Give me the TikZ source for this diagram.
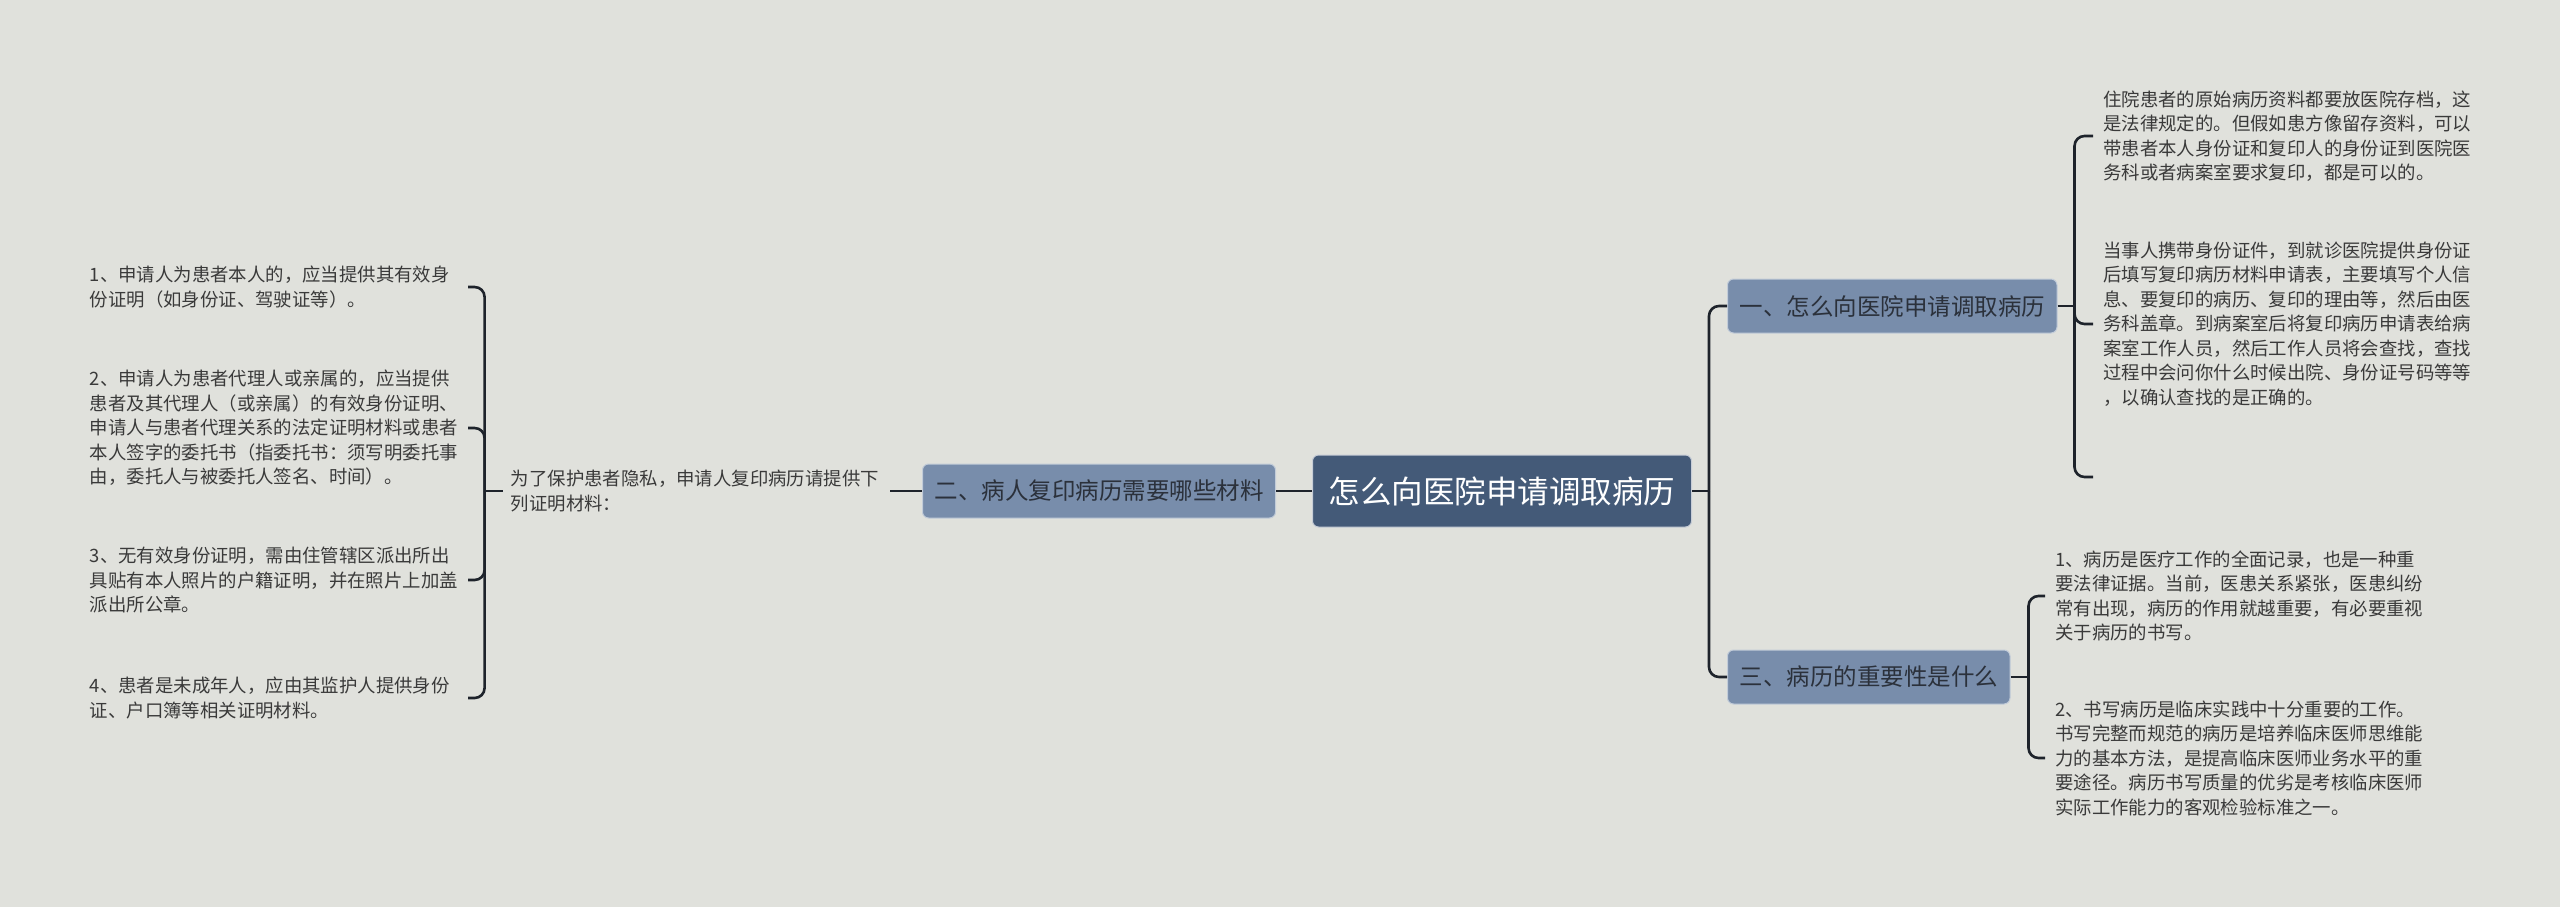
\documentclass[tikz,border=0pt]{standalone}
\usepackage{fontspec}
\setmainfont{Noto Sans CJK SC}
\usetikzlibrary{positioning}
\definecolor{bgcol}{HTML}{E0E1DC}
\definecolor{rootcol}{HTML}{445A78}
\definecolor{topiccol}{HTML}{788DAB}
\definecolor{linecol}{HTML}{1E232B}
\definecolor{leaftext}{HTML}{3A3A3A}
\definecolor{topictext}{HTML}{2B313B}

\begin{document}
\begin{tikzpicture}[x=1pt,y=-1pt,node distance=36pt,
  root/.style={rectangle,rounded corners=6pt,fill=rootcol,draw=white!70!rootcol,line width=1pt,text=white,
    font=\fontsize{31.5}{36}\selectfont,minimum width=379pt,minimum height=72pt},
  topic/.style={rectangle,rounded corners=6pt,fill=topiccol,draw=white!55!topiccol,line width=1pt,text=topictext,
    font=\fontsize{23.5}{28}\selectfont,minimum height=54pt,inner xsep=12pt},
  leaf/.style={align=left,text width=370pt,inner xsep=8pt,text=leaftext,font=\fontsize{18.4}{24.5}\selectfont},
  link/.style={draw=linecol,line width=2.6pt,rounded corners=10pt}]
\useasboundingbox (0,0) rectangle (2560,907);
\fill[bgcol] (0,0) rectangle (2560,907);

% centre and the left branch
\node[root] (root) at (1502,491) {怎么向医院申请调取病历};
\node[topic,left=of root] (n2) {二、病人复印病历需要哪些材料};
\node[leaf,text width=371pt,left=32pt of n2] (why) {为了保护患者隐私，申请人复印病历请提供下\\列证明材料：};
\node[leaf,anchor=east] (l1) at (468,287) {1、申请人为患者本人的，应当提供其有效身\\份证明（如身份证、驾驶证等）。};
\node[leaf,anchor=east] (l2) at (468,428) {2、申请人为患者代理人或亲属的，应当提供\\患者及其代理人（或亲属）的有效身份证明、\\申请人与患者代理关系的法定证明材料或患者\\本人签字的委托书（指委托书：须写明委托事\\由，委托人与被委托人签名、时间）。};
\node[leaf,anchor=east] (l3) at (468,580) {3、无有效身份证明，需由住管辖区派出所出\\具贴有本人照片的户籍证明，并在照片上加盖\\派出所公章。};
\node[leaf,anchor=east] (l4) at (468,698) {4、患者是未成年人，应由其监护人提供身份\\证、户口簿等相关证明材料。};

% right branches
\node[topic,anchor=west] (n1) at (1727,306) {一、怎么向医院申请调取病历};
\node[topic,anchor=west] (n3) at (1727,677) {三、病历的重要性是什么};
\node[leaf,inner xsep=10pt,anchor=west] (r1) at (2093,136) {住院患者的原始病历资料都要放医院存档，这\\是法律规定的。但假如患方像留存资料，可以\\带患者本人身份证和复印人的身份证到医院医\\务科或者病案室要求复印，都是可以的。};
\node[leaf,inner xsep=10pt,anchor=west] (r2) at (2093,324) {当事人携带身份证件，到就诊医院提供身份证\\后填写复印病历材料申请表，主要填写个人信\\息、要复印的病历、复印的理由等，然后由医\\务科盖章。到病案室后将复印病历申请表给病\\案室工作人员，然后工作人员将会查找，查找\\过程中会问你什么时候出院、身份证号码等等\\，以确认查找的是正确的。};
\coordinate (r0) at (2093,477);
\node[leaf,inner xsep=10pt,anchor=west] (r3) at (2045,596) {1、病历是医疗工作的全面记录，也是一种重\\要法律证据。当前，医患关系紧张，医患纠纷\\常有出现，病历的作用就越重要，有必要重视\\关于病历的书写。};
\node[leaf,inner xsep=10pt,anchor=west] (r4) at (2045,758) {2、书写病历是临床实践中十分重要的工作。\\书写完整而规范的病历是培养临床医师思维能\\力的基本方法，是提高临床医师业务水平的重\\要途径。病历书写质量的优劣是考核临床医师\\实际工作能力的客观检验标准之一。};

% connectors
\draw[link] (root.west) -- (n2.east);
\draw[link] (n2.west) -- (why.east);
\draw[link] (why.west) -- ++(-18,0) coordinate (jl);
\foreach \n in {l1,l2,l3,l4}
  \draw[link] (jl) |- (\n.east);
\draw[link] (root.east) -- ++(17,0) coordinate (jr);
\draw[link] (jr) |- (n1.west);
\draw[link] (jr) |- (n3.west);
\draw[link] (n1.east) -- ++(17,0) coordinate (j1);
\foreach \n in {r1.west,r2.west,r0}
  \draw[link] (j1) |- (\n);
\draw[link] (n3.east) -- ++(18,0) coordinate (j3);
\draw[link] (j3) |- (r3.west);
\draw[link] (j3) |- (r4.west);
\end{tikzpicture}
\end{document}
